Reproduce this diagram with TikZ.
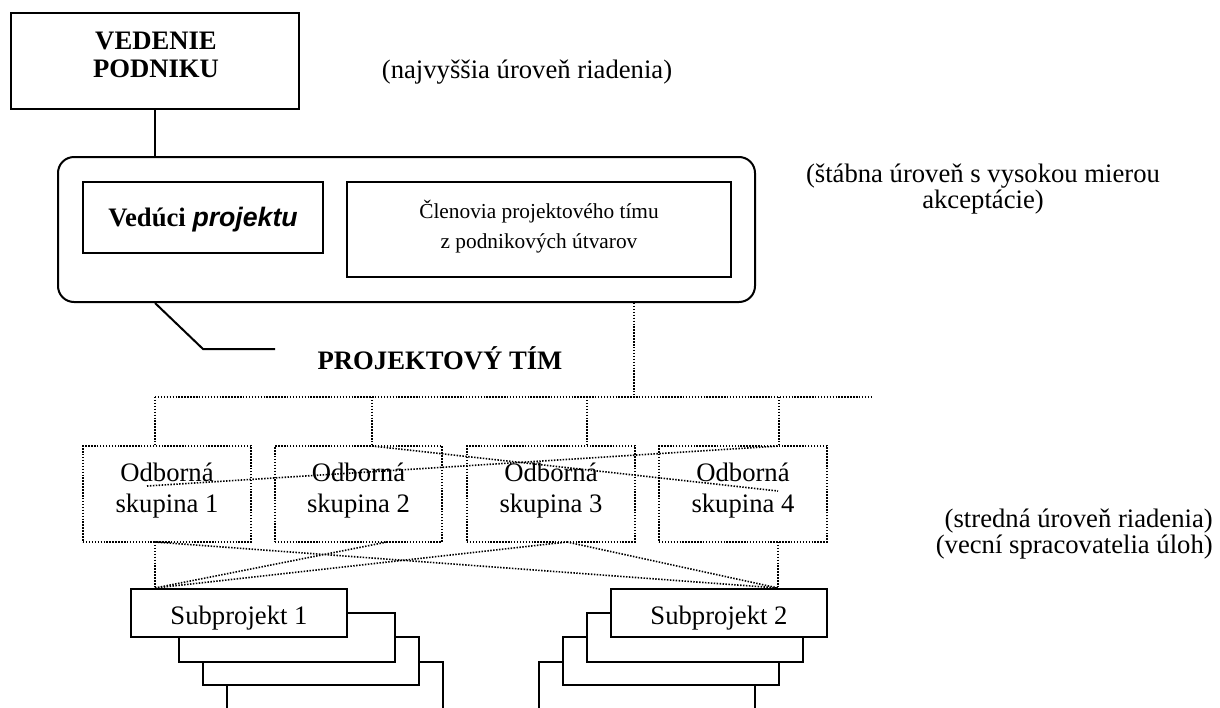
\documentclass[tikz,border=0pt]{standalone}
\usepackage{fontspec}
\setmainfont{Liberation Serif}
\newfontfamily\sansbi{Liberation Sans}
\usetikzlibrary{fit}

\begin{document}
\begin{tikzpicture}[x=0.75pt,y=-0.75pt,
  solidbox/.style={draw, line width=1.5pt, inner sep=0pt},
  dotbox/.style={draw, line width=1.2pt, dash pattern=on 1.1pt off 1.1pt, inner sep=0pt},
  solidline/.style={line width=1.5pt},
  dotline/.style={line width=1.2pt, dash pattern=on 1.1pt off 1.1pt},
  txt/.style={anchor=base, inner sep=0pt, font=\fontsize{20}{24}\selectfont},
  boldtxt/.style={anchor=base, inner sep=0pt, font=\bfseries\fontsize{20}{24}\selectfont},
  smalltxt/.style={anchor=base, inner sep=0pt, font=\fontsize{16}{19}\selectfont},
]
\useasboundingbox (0,0) rectangle (1220,707);
\clip (0,0) rectangle (1220,707);

% top management
\node[solidbox, fit={(11,13) (299,109)}] (vp) {};
\node[boldtxt] at (156,49) {VEDENIE};
\node[boldtxt] at (156,77) {PODNIKU};
\node[txt] at (527,78) {(najvyššia úroveň riadenia)};

% project team frame
\node[solidbox, rounded corners=12pt, fit={(58,157) (755,302)}] (team) {};
\node[solidbox, fit={(83,182) (323,253)}] (lead) {};
\node[boldtxt] at (203,226) {Vedúci {\sansbi\itshape projektu}};
\node[solidbox, fit={(347,182) (731,277)}] (members) {};
\node[smalltxt] at (539,218) {Členovia projektového tímu};
\node[smalltxt] at (539,248) {z podnikových útvarov};
\node[txt] at (983,182) {(štábna úroveň s vysokou mierou};
\node[txt] at (983,208) {akceptácie)};

\draw[solidline] (vp.south) -- (vp.south |- team.north);

% callout to the team label
\coordinate (calloutEnd) at (275,349);
\draw[solidline] (vp.south |- team.south) -- (203,349) -- (calloutEnd);
\node[boldtxt] (teamlabel) at (440,369) {PROJEKTOVÝ TÍM};

% dotted distribution bus
\coordinate (busdrop) at (634,397);
\coordinate (busL) at (155,397);
\coordinate (busR) at (873,397);
\draw[dotline] (team.south -| busdrop) -- (busdrop);
\draw[dotline] (busL) -- (busR);

% expert groups
\node[dotbox, fit={(83,446) (251,542)}] (g1) {};
\node[dotbox, fit={(275,446) (442,542)}] (g2) {};
\node[dotbox, fit={(467,446) (635,542)}] (g3) {};
\node[dotbox, fit={(659,446) (827,542)}] (g4) {};
\foreach \n/\cx in {1/167, 2/358.5, 3/551, 4/743} {
  \node[txt] at (\cx,481) {Odborná};
  \node[txt] at (\cx,512) {skupina \n};
}

\coordinate (t1) at (155,446);
\coordinate (t2) at (372,446);
\coordinate (t3) at (587,446);
\coordinate (t4) at (779,446);
\foreach \t in {t1,t2,t3,t4} \draw[dotline] (\t |- busL) -- (\t);

\coordinate (x1) at (147,486);
\coordinate (x4) at (778,491);
\draw[dotline] (x1) -- (t4);
\draw[dotline] (t2) -- (x4);

% subprojects (stacked sheets)
\node[solidbox, fit={(227,662) (443,730)}] (s1d) {};
\node[solidbox, fill=white, fit={(203,637) (419,685)}] (s1c) {};
\node[solidbox, fill=white, fit={(179,613) (395,662)}] (s1b) {};
\node[solidbox, fill=white, fit={(131,589) (347,637)}] (s1) {};
\node[txt] at (239,624) {Subprojekt 1};

\node[solidbox, fit={(539,662) (755,730)}] (s2d) {};
\node[solidbox, fill=white, fit={(563,637) (779,685)}] (s2c) {};
\node[solidbox, fill=white, fit={(587,613) (803,662)}] (s2b) {};
\node[solidbox, fill=white, fit={(611,589) (827,637)}] (s2) {};
\node[txt] at (719,624) {Subprojekt 2};

% links between groups and subprojects
\coordinate (b1) at (155,542);
\coordinate (b2) at (387,542);
\coordinate (b3) at (567,542);
\coordinate (b4) at (778,542);
\coordinate (s1top) at (b1 |- s1.north);
\coordinate (s2top) at (b4 |- s2.north);
\draw[dotline] (b1) -- (s1top);
\draw[dotline] (b1) -- (s2top);
\draw[dotline] (s1top) -- (b2);
\draw[dotline] (s1top) -- (b3);
\draw[dotline] (b3) -- (s2top);
\draw[dotline] (b4) -- (s2top);

% middle management note, two tightly set lines
\node[anchor=base east, inner sep=0pt, align=right,
      font=\fontsize{20}{16.5}\selectfont] at (1213,553)
  {(stredná úroveň riadenia)\\(vecní spracovatelia úloh)};
\end{tikzpicture}
\end{document}
